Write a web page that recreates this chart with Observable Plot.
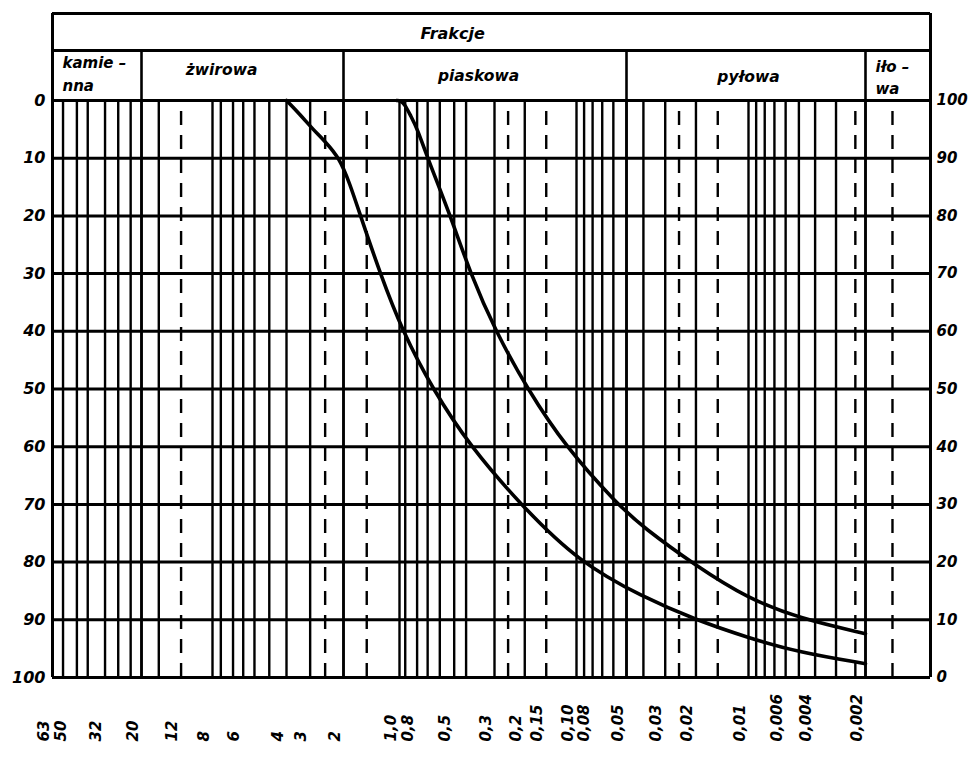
<!DOCTYPE html>
<html><head><meta charset="utf-8">
<script src="https://cdn.jsdelivr.net/npm/d3@7"></script>
<script src="https://cdn.jsdelivr.net/npm/@observablehq/plot@0.6"></script>
<style>
html,body{margin:0;padding:0;background:#fff;overflow:hidden}
#chart svg{display:block}
</style>
</head><body><div id="chart"></div>
<script>
// ---- data (grain diameter in mm, percent passing) ----
const curveA_d = [4.0, 3.4, 2.9, 2.5, 2.1, 1.85, 1.62, 1.27, 0.963, 0.658, 0.407, 0.212, 0.097, 0.040, 0.0201, 0.0101, 0.0049, 0.002];
const curveA_p = [100, 97.6, 95.0, 92.9, 90, 85.6, 80, 70, 60, 50, 40, 30, 20, 13.9, 10, 6.9, 4.3, 2.4];
const curveB_d = [1.04, 0.98, 0.93, 0.87, 0.8, 0.70, 0.524, 0.407, 0.296, 0.193, 0.116, 0.0566, 0.040, 0.0201, 0.0101, 0.0049, 0.002];
const curveB_p = [100, 100, 99.2, 97.4, 95.2, 90, 80, 70, 60, 50, 40, 30, 26, 19.4, 13.7, 10.2, 7.6];

const solidGrid = [55, 46, 40, 32, 27, 23, 20, 16, 8, 7.4, 6.6, 6, 5.4, 4.7, 4, 3, 2,
  1.0, 0.93, 0.8, 0.7, 0.6, 0.5, 0.43, 0.3, 0.2, 0.1, 0.09, 0.08, 0.07, 0.06, 0.05,
  0.04, 0.03, 0.02, 0.01, 0.009, 0.008, 0.007, 0.006, 0.005, 0.004, 0.003, 0.002];
const dashedGrid = [12, 2.5, 1.5, 0.25, 0.15, 0.025, 0.015, 0.0023, 0.0015];

const xTickValues = [63, 50, 32, 20, 12, 8, 6, 4, 3, 2, 1.0, 0.8, 0.5, 0.3, 0.2, 0.15, 0.10, 0.08, 0.05, 0.03, 0.02, 0.01, 0.006, 0.004, 0.002];
const xTickLabels = ["63", "50", "32", "20", "12", "8", "6", "4", "3", "2", "1,0", "0,8", "0,5", "0,3", "0,2", "0,15", "0,10", "0,08", "0,05", "0,03", "0,02", "0,01", "0,006", "0,004", "0,002"];
const leftLabels = [0, 10, 20, 30, 40, 50, 60, 70, 80, 90, 100];   // % retained (top = 0)
const rightLabels = [100, 90, 80, 70, 60, 50, 40, 30, 20, 10, 0];  // % passing (top = 100)

const fractionBounds = [20, 2, 0.05, 0.002];
const fractionsCentered = [
  {name: "żwirowa", x: 7.35, y: 105.2},
  {name: "piaskowa", x: 0.367, y: 104.3},
  {name: "pyłowa", x: 0.01, y: 104.0}
];
const fractionsLeft = [
  {name: "kamie –", x: 63, y: 106.4},
  {name: "nna", x: 63, y: 102.4},
  {name: "iło –", x: 0.002, y: 105.7},
  {name: "wa", x: 0.002, y: 101.9}
];
const headerTitle = "Frakcje";

// ---- build ----
const curveA = curveA_d.map((d, i) => ({d, p: curveA_p[i]}));
const curveB = curveB_d.map((d, i) => ({d, p: curveB_p[i]}));
const xEdgeMin = 63, xEdgeMax = 0.001;
const yTop = 115.08, yMid = 108.67;
const font = {fontFamily: "DejaVu Sans", fontStyle: "italic", fontWeight: "bold"};

const chart = Plot.plot({
  width: 974,
  height: 762,
  marginLeft: 52,
  marginRight: 44,
  marginTop: 13,
  marginBottom: 85,
  x: {type: "log", domain: [63, 20, 8, 4, 2, 1, 0.3, 0.1, 0.05, 0.01, 0.002, 0.001],
      range: [52, 141, 212, 286, 343, 399, 494, 576, 626, 748, 865, 930], axis: null},
  y: {domain: [0, yTop], range: [677, 13], axis: null},
  style: {background: "#fff", color: "#000"},
  marks: [
    Plot.ruleX(solidGrid, {x: d => d, y1: 0, y2: 100, stroke: "#000", strokeWidth: 2.4}),
    Plot.ruleX(dashedGrid, {x: d => d, y1: 0, y2: 100, stroke: "#000", strokeWidth: 2.4, strokeDasharray: "14,10"}),
    Plot.ruleY(rightLabels, {y: d => d, stroke: "#000", strokeWidth: 3}),
    // header and frame
    Plot.ruleY([yMid, yTop], {y: d => d, stroke: "#000", strokeWidth: 3}),
    Plot.ruleX([xEdgeMin, xEdgeMax], {x: d => d, y1: 0, y2: yTop, stroke: "#000", strokeWidth: 3}),
    Plot.ruleX(fractionBounds, {x: d => d, y1: 0, y2: yMid, stroke: "#000", strokeWidth: 2.6}),
    // curves
    Plot.line(curveA, {x: "d", y: "p", curve: "basis", stroke: "#000", strokeWidth: 3.6}),
    Plot.line(curveB, {x: "d", y: "p", curve: "basis", stroke: "#000", strokeWidth: 3.6}),
    // header text
    Plot.text([headerTitle], {x: 0.51, y: 111.6, text: d => d, fontSize: 16, ...font}),
    Plot.text(fractionsCentered, {x: "x", y: "y", text: "name", fontSize: 15.5, ...font}),
    Plot.text(fractionsLeft, {x: "x", y: "y", text: "name", textAnchor: "start", dx: 10, fontSize: 15, ...font}),
    // axes labels
    Plot.text(leftLabels, {frameAnchor: "left", y: d => 100 - d, text: d => String(d), textAnchor: "end", dx: -7, fontSize: 16, ...font}),
    Plot.text(rightLabels, {frameAnchor: "right", y: d => d, text: d => String(d), textAnchor: "start", dx: 6, fontSize: 15, ...font}),
    Plot.text(xTickValues, {x: d => d, text: (d, i) => xTickLabels[i], frameAnchor: "bottom", rotate: -90, textAnchor: "start", dy: 64, dx: -4, fontSize: 15, ...font})
  ]
});
document.getElementById("chart").appendChild(chart);
</script>
</body></html>
